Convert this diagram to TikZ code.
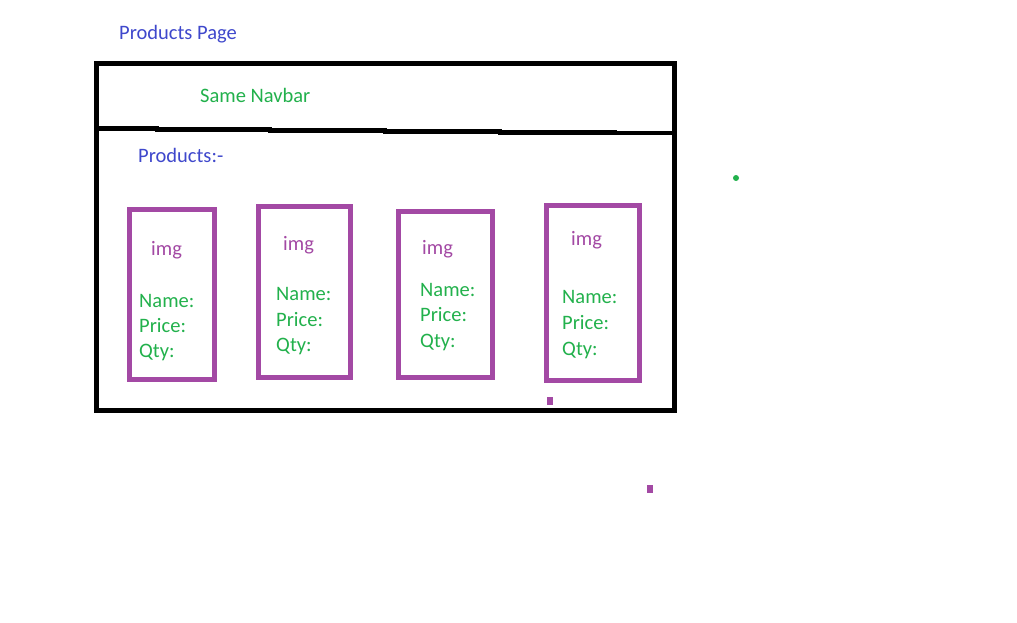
\documentclass[tikz,border=0pt]{standalone}
\usepackage{fontspec}
\setmainfont{Carlito}
\definecolor{pblue}{HTML}{3F48CC}
\definecolor{pgreen}{HTML}{22B14C}
\definecolor{ppurple}{HTML}{A349A4}
\begin{document}
\begin{tikzpicture}[x=1pt,y=-1pt,
  txt/.style={anchor=base west,inner sep=0pt,font=\fontsize{20.5pt}{24pt}\selectfont},
  bluetxt/.style={txt,text=pblue},
  greentxt/.style={txt,text=pgreen},
  imgtxt/.style={txt,text=ppurple},
  frame/.style={draw=black,line width=5pt},
  card/.style={draw=ppurple,line width=5pt},
  speck/.style={fill=ppurple}]
\useasboundingbox (0,0) rectangle (1017,623);
\fill[white] (0,0) rectangle (1017,623);
% title
\node[bluetxt] (title) at (119,40) {Products Page};
% outer frame
\draw[frame] (96,63.5) rectangle (674.5,410.5);
\coordinate (navL) at (96,128.5);
\coordinate (navR) at (674.5,133);
\draw[draw=black,line width=4.5pt] (navL) -- (157,128.5) -- (157,129.5) -- (270,129.5) -- (270,130.5) -- (385,130.5) -- (385,131.5) -- (500,131.5) -- (500,132.5) -- (615,132.5) -- (615,133) -- (navR);
\node[greentxt] (navbar) at (200,103) {Same Navbar};
\node[bluetxt] (prods) at (138,162) {Products:-};
% cards
\draw[card] (129.5,209.5) rectangle (214.5,379.5);
\draw[card] (258.5,206.5) rectangle (350.5,377.5);
\draw[card] (398.5,211.5) rectangle (492,377.5);
\draw[card] (546.5,205.5) rectangle (639.5,380.5);
% card 1
\node[imgtxt] (img1) at (151,255) {img};
\node[greentxt] (name1) at (139,307) {Name:};
\node[greentxt] (price1) at (139,332) {Price:};
\node[greentxt] (qty1) at (139,357) {Qty:};
% card 2
\node[imgtxt] (img2) at (283,250) {img};
\node[greentxt] (name2) at (276,300) {Name:};
\node[greentxt] (price2) at (276,326) {Price:};
\node[greentxt] (qty2) at (276,351) {Qty:};
% card 3
\node[imgtxt] (img3) at (422,254) {img};
\node[greentxt] (name3) at (420,296) {Name:};
\node[greentxt] (price3) at (420,321) {Price:};
\node[greentxt] (qty3) at (420,347) {Qty:};
% card 4
\node[imgtxt] (img4) at (571,245) {img};
\node[greentxt] (name4) at (562,303) {Name:};
\node[greentxt] (price4) at (562,329) {Price:};
\node[greentxt] (qty4) at (562,355) {Qty:};
% stray marks
\fill[speck] (547,397) rectangle (553,405);
\fill[speck] (647,485) rectangle (653,493);
\fill[pgreen] (736,178) circle (3);
\end{tikzpicture}
\end{document}
